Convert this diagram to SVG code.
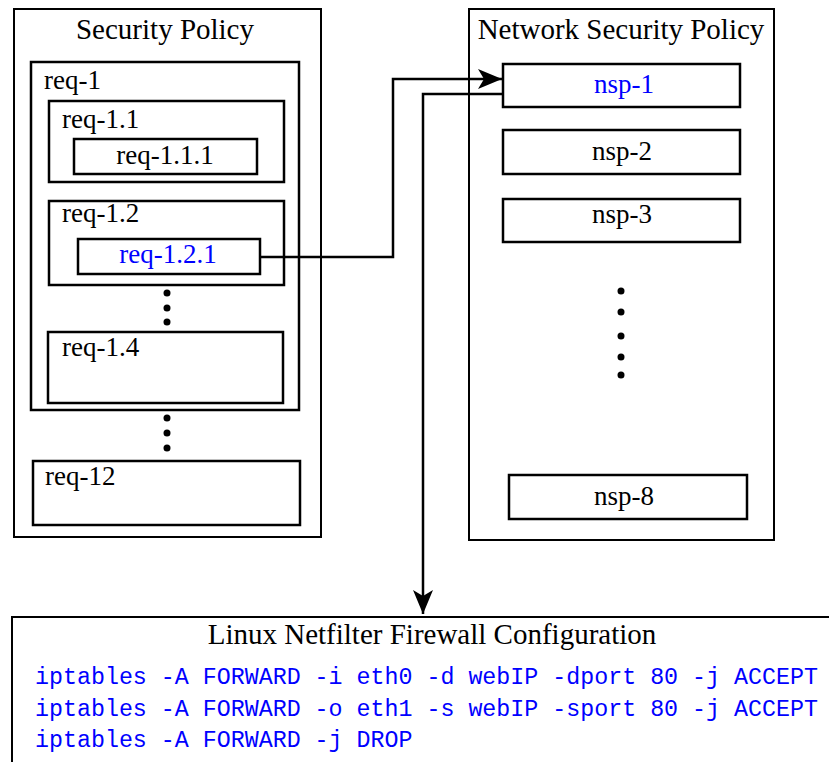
<svg xmlns="http://www.w3.org/2000/svg" width="829" height="762" viewBox="0 0 829 762">
  <style>
    .box { fill: #ffffff; stroke: #000000; stroke-width: 2.5; }
    .outer { fill: #ffffff; stroke: #000000; stroke-width: 2; }
    .lbl { font-family: "Liberation Serif", "Times New Roman", serif; font-size: 27px; fill: #000000; }
    .title { font-family: "Liberation Serif", "Times New Roman", serif; font-size: 29px; fill: #000000; text-anchor: middle; }
    .mid { text-anchor: middle; }
    .blue { fill: #0000ff; }
    .code { font-family: "Liberation Mono", "Courier New", monospace; font-size: 23.3px; fill: #0000ff; }
    .wire { fill: none; stroke: #000000; stroke-width: 2.5; }
    .dot { fill: #000000; }
  </style>
  <defs>
    <marker id="stealth" viewBox="0 0 24 20" refX="24" refY="10" markerWidth="24" markerHeight="20" markerUnits="userSpaceOnUse" orient="auto">
      <path d="M0,0 L24,10 L0,20 L6,10 Z" fill="#000000"/>
    </marker>
  </defs>

  <!-- Security Policy container -->
  <g id="security-policy">
    <rect class="outer" x="14" y="9" width="307" height="528"/>
    <text class="title" x="165" y="39">Security Policy</text>
  </g>

  <g id="req-1">
    <rect class="box" x="31" y="62" width="268" height="348"/>
    <text class="lbl" x="44" y="89">req-1</text>
  </g>

  <g id="req-1.1">
    <rect class="box" x="49" y="101" width="235" height="81"/>
    <text class="lbl" x="62" y="128">req-1.1</text>
  </g>

  <g id="req-1.1.1">
    <rect class="box" x="74" y="139" width="183" height="35"/>
    <text class="lbl mid" x="165" y="164">req-1.1.1</text>
  </g>

  <g id="req-1.2">
    <rect class="box" x="49" y="201" width="235" height="84"/>
    <text class="lbl" x="62" y="222">req-1.2</text>
  </g>

  <g id="req-1.2.1">
    <rect class="box" x="78" y="239" width="182" height="35"/>
    <text class="lbl mid blue" x="168" y="263">req-1.2.1</text>
  </g>

  <g id="req-dots-a">
    <circle class="dot" cx="167" cy="293" r="3.5"/>
    <circle class="dot" cx="167" cy="308" r="3.5"/>
    <circle class="dot" cx="167" cy="322" r="3.5"/>
  </g>

  <g id="req-1.4">
    <rect class="box" x="48" y="332" width="235" height="71"/>
    <text class="lbl" x="62" y="356">req-1.4</text>
  </g>

  <g id="req-dots-b">
    <circle class="dot" cx="167" cy="418" r="3.5"/>
    <circle class="dot" cx="167" cy="433" r="3.5"/>
    <circle class="dot" cx="167" cy="448" r="3.5"/>
  </g>

  <g id="req-12">
    <rect class="box" x="33" y="461" width="267" height="64"/>
    <text class="lbl" x="45" y="485">req-12</text>
  </g>

  <!-- Network Security Policy container -->
  <g id="network-security-policy">
    <rect class="outer" x="469" y="9" width="305" height="531"/>
    <text class="title" x="621" y="39">Network Security Policy</text>
  </g>

  <g id="nsp-1">
    <rect class="box" x="503" y="64" width="237" height="43"/>
    <text class="lbl mid blue" x="624" y="93">nsp-1</text>
  </g>

  <g id="nsp-2">
    <rect class="box" x="503" y="130" width="237" height="44"/>
    <text class="lbl mid" x="622" y="160">nsp-2</text>
  </g>

  <g id="nsp-3">
    <rect class="box" x="503" y="199" width="237" height="43"/>
    <text class="lbl mid" x="622" y="223">nsp-3</text>
  </g>

  <g id="nsp-dots">
    <circle class="dot" cx="621" cy="291" r="3.5"/>
    <circle class="dot" cx="621" cy="312" r="3.5"/>
    <circle class="dot" cx="621" cy="336" r="3.5"/>
    <circle class="dot" cx="621" cy="357" r="3.5"/>
    <circle class="dot" cx="621" cy="375" r="3.5"/>
  </g>

  <g id="nsp-8">
    <rect class="box" x="509" y="475" width="238" height="44"/>
    <text class="lbl mid" x="624" y="505">nsp-8</text>
  </g>

  <!-- Firewall configuration panel -->
  <g id="netfilter-config">
    <rect class="outer" x="12" y="617" width="830" height="160"/>
    <text class="title" x="432" y="644">Linux Netfilter Firewall Configuration</text>
    <text class="code" x="35" y="684">iptables -A FORWARD -i eth0 -d webIP -dport 80 -j ACCEPT</text>
    <text class="code" x="35" y="716">iptables -A FORWARD -o eth1 -s webIP -sport 80 -j ACCEPT</text>
    <text class="code" x="35" y="747">iptables -A FORWARD -j DROP</text>
  </g>

  <!-- Connectors -->
  <g id="connectors">
    <path class="wire" d="M260,257 H393 V79 H502" marker-end="url(#stealth)"/>
    <path class="wire" d="M503,94 H423 V614" marker-end="url(#stealth)"/>
  </g>
</svg>
